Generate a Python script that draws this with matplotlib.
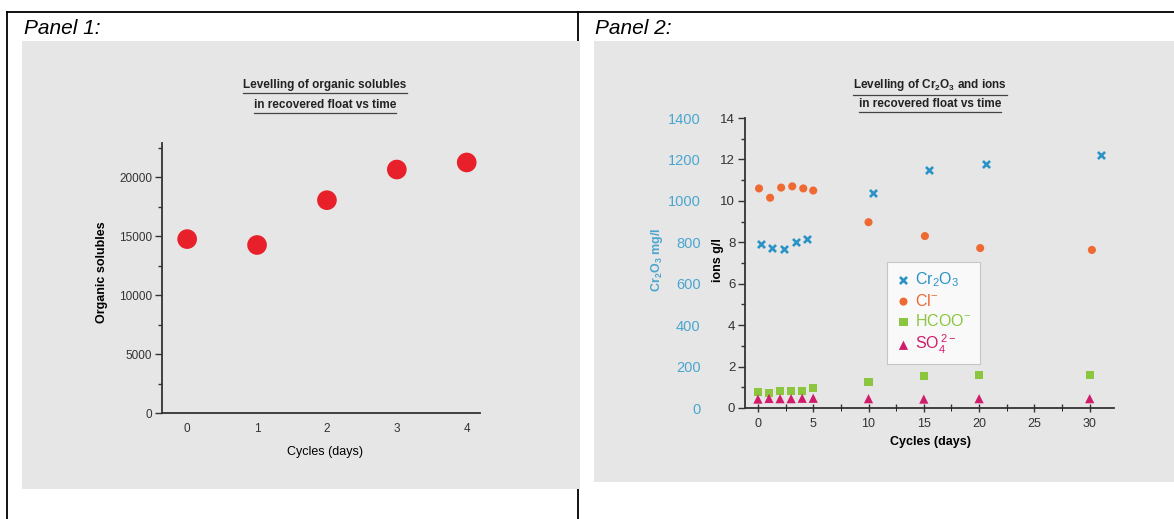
import numpy as np
import matplotlib.pyplot as plt
from matplotlib.lines import Line2D
from matplotlib.patches import Rectangle
from matplotlib.ticker import MultipleLocator

W, H = 1174, 519
CHART_FONT = ['Liberation Sans Narrow', 'Liberation Sans', 'DejaVu Sans']
plt.rcParams['font.family'] = CHART_FONT
plt.rcParams['mathtext.default'] = 'regular'

# Panel 1 data
days1 = [0, 1, 2, 3, 4]
organic = [14750, 14250, 18050, 20650, 21250]

# Panel 2 data (ions in g/l, Cr2O3 in mg/l)
cr_days = [0.3, 1.3, 2.4, 3.4, 4.4, 10.4, 15.5, 20.6, 31.0]
cr2o3 = [790, 772, 768, 800, 815, 1040, 1150, 1180, 1222]
cl_days = [0.1, 1.1, 2.1, 3.1, 4.1, 5.0, 10.0, 15.1, 20.1, 30.2]
cl = [10.6, 10.15, 10.64, 10.7, 10.6, 10.5, 8.97, 8.3, 7.72, 7.63]
ion_days = [0, 1, 2, 3, 4, 5, 10, 15, 20, 30]
hcoo = [0.76, 0.74, 0.8, 0.8, 0.84, 0.97, 1.26, 1.53, 1.61, 1.61]
so4 = [0.43, 0.46, 0.45, 0.45, 0.47, 0.47, 0.45, 0.43, 0.45, 0.45]

BG = '#e6e6e7'
BLUE = '#2b93c6'
BLUE_LBL = '#4aa6cf'
ORANGE = '#ef6a33'
GREEN = '#8cc63f'
MAGENTA = '#d11c6b'
INK = '#333333'

fig = plt.figure(figsize=(W / 100, H / 100), dpi=100)


def px_axes(l, t, r, b):
    return fig.add_axes([l / W, 1 - b / H, (r - l) / W, (b - t) / H])


def fx(x):
    return x / W


def fy(y):
    return 1 - y / H


# table frame and grey panel backgrounds
for seg in [((7, W), (12, 12)), ((7, 7), (12, H)), ((578, 578), (12, H))]:
    fig.add_artist(Line2D([fx(v) for v in seg[0]], [fy(v) for v in seg[1]],
                          color='black', lw=1.3, zorder=-3))
fig.add_artist(Rectangle((fx(22), fy(489)), fx(558), 448 / H, color=BG, lw=0, zorder=-2))
fig.add_artist(Rectangle((fx(594), fy(482)), fx(580), 441 / H, color=BG, lw=0, zorder=-2))

panel_font = ['Liberation Sans', 'DejaVu Sans']
fig.text(fx(24), fy(28), 'Panel 1:', family=panel_font, style='italic', fontsize=15,
         va='center')
fig.text(fx(595), fy(28), 'Panel 2:', family=panel_font, style='italic', fontsize=15,
         va='center')


def style_axes(ax):
    ax.set_facecolor('none')
    for s in ['top', 'right']:
        ax.spines[s].set_visible(False)
    for s in ['left', 'bottom']:
        ax.spines[s].set_color(INK)
        ax.spines[s].set_linewidth(1.3)


# ---------- Panel 1 ----------
ax1 = px_axes(162, 143, 480, 413)
style_axes(ax1)
ax1.scatter(days1, organic, s=200, color='#e8202a', edgecolors='none', zorder=3)
ax1.set_xlim(-0.36, 4.19)
ax1.set_ylim(0, 22900)
ax1.set_xticks(days1)
ax1.set_yticks([0, 5000, 10000, 15000, 20000])
ax1.yaxis.set_minor_locator(MultipleLocator(2500))
ax1.tick_params(axis='x', length=0, pad=7, labelsize=8.5, labelcolor=INK)
ax1.tick_params(axis='y', which='major', length=5, width=1, color=INK, pad=2,
                labelsize=8.5, labelcolor=INK)
ax1.tick_params(axis='y', which='minor', length=3, width=1, color=INK)
ax1.set_ylabel('Organic solubles', fontweight='bold', fontsize=9)
ax1.yaxis.set_label_coords(-0.17, 0.52)
ax1.set_xlabel('Cycles (days)', fontsize=9)
ax1.xaxis.set_label_coords(0.513, -0.122)

# ---------- Panel 2 ----------
ax2 = px_axes(745, 118, 1114, 408)
style_axes(ax2)
ax2.set_xlim(-1.17, 32.2)
ax2.set_ylim(0, 14)
h_cr = ax2.scatter(cr_days, np.array(cr2o3) / 100, marker='x', s=26, linewidths=1.9,
                   color=BLUE, zorder=3, label=r'Cr$_2$O$_3$')
h_cl = ax2.scatter(cl_days, cl, marker='o', s=34, color=ORANGE, edgecolors='none',
                   zorder=3, label=r'Cl$^{-}$')
h_hc = ax2.scatter(ion_days, hcoo, marker='s', s=34, color=GREEN, edgecolors='none',
                   zorder=3, label=r'HCOO$^{-}$')
h_so = ax2.scatter(ion_days, so4, marker='^', s=44, color=MAGENTA, edgecolors='none',
                   zorder=3, label=r'SO$_4^{\,2-}$')
ax2.set_xticks([0, 5, 10, 15, 20, 25, 30])
ax2.xaxis.set_minor_locator(MultipleLocator(2.5))
ax2.set_yticks(range(0, 15, 2))
ax2.yaxis.set_minor_locator(MultipleLocator(1))
ax2.tick_params(axis='x', which='major', direction='inout', length=6, width=1,
                color=INK, pad=4, labelsize=9, labelcolor=INK)
ax2.tick_params(axis='x', which='minor', direction='in', length=3, width=1, color=INK)
ax2.tick_params(axis='y', which='major', length=5, width=1, color=INK, pad=2,
                labelsize=9.5, labelcolor=INK)
ax2.tick_params(axis='y', which='minor', length=3, width=1, color=INK)
ax2.set_ylabel('ions g/l', fontweight='bold', fontsize=9)
ax2.yaxis.set_label_coords(-0.057, 0.51)
ax2.set_xlabel('Cycles (days)', fontweight='bold', fontsize=9)
ax2.xaxis.set_label_coords(0.504, -0.096)

# Cr2O3 scale drawn as a second, spine-less axis on the left
ax3 = fig.add_axes(ax2.get_position(), sharex=ax2)
ax3.set_facecolor('none')
for s in ax3.spines.values():
    s.set_visible(False)
ax3.set_ylim(0, 1400)
ax3.set_yticks(range(0, 1401, 200))
ax3.tick_params(axis='y', length=0, pad=32, labelsize=10.5, labelcolor=BLUE_LBL)
ax3.tick_params(axis='x', bottom=False, labelbottom=False)
ax3.set_ylabel(r'Cr$_2$O$_3$ mg/l', fontweight='bold', fontsize=9, color=BLUE_LBL)
ax3.yaxis.set_label_coords(-0.218, 0.51)

leg = ax3.legend(handles=[h_cr, h_cl, h_hc, h_so], loc='upper left',
                 bbox_to_anchor=(0.384, 0.503), borderaxespad=0,
                 frameon=True, fancybox=False, handletextpad=0.2, handlelength=1.1,
                 labelspacing=0.25, borderpad=0.5,
                 prop={'family': ['Liberation Sans', 'DejaVu Sans'], 'size': 11.5})
leg.get_frame().set_edgecolor('#bbbbbb')
leg.get_frame().set_linewidth(0.8)
for txt, col in zip(leg.get_texts(), [BLUE, ORANGE, GREEN, MAGENTA]):
    txt.set_color(col)
leg.set_zorder(5)

# underlined two-line titles
titles = [(325, ['Levelling of organic solubles', 'in recovered float vs time'], (85, 105)),
          (930, [r'Levelling of Cr$_2$O$_3$ and ions', 'in recovered float vs time'], (85, 104))]
title_texts = []
for cx, lines, ys in titles:
    for line, y in zip(lines, ys):
        t = fig.text(fx(cx), fy(y), line, ha='center', va='center', fontsize=8.5,
                     fontweight='bold', color='#222222')
        title_texts.append(t)

fig.canvas.draw()
renderer = fig.canvas.get_renderer()
for t in title_texts:
    bb = t.get_window_extent(renderer)
    yline = bb.y0 - 2
    fig.add_artist(Line2D([bb.x0 / W, bb.x1 / W], [yline / H, yline / H],
                          color='#444444', lw=0.9))

fig.savefig('out.png', dpi=100)
